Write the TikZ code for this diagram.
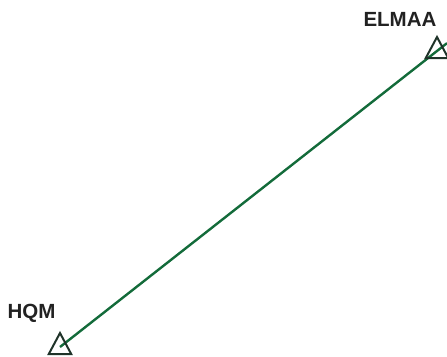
\documentclass[tikz,border=0pt]{standalone}
\usepackage{fontspec}
\setmainfont{Liberation Sans}
\usetikzlibrary{calc}
\definecolor{linegreen}{HTML}{136B3A}
\definecolor{tridark}{HTML}{1F3329}
\definecolor{labelgray}{HTML}{222222}
\tikzset{
  station/.style={draw=tridark, line width=2pt, line join=miter},
  stlabel/.style={anchor=base west, inner sep=0pt, text=labelgray, font=\fontsize{20.5}{24}\selectfont\bfseries},
  link/.style={draw=linegreen, line width=2.4pt}
}
\begin{document}
\begin{tikzpicture}[x=1pt,y=-1pt]
\useasboundingbox (0,0) rectangle (447,356);
\coordinate (hqm) at (60,347);
\coordinate (elmaa) at (437,51);
\coordinate (edge) at ($(hqm)!1.0265!(elmaa)$);
\draw[link] (hqm) -- (edge);
\draw[station] ($(hqm)+(0,-14)$) -- ($(hqm)+(11.2,7)$) -- ($(hqm)+(-11.2,7)$) -- cycle;
\draw[station] ($(elmaa)+(0,-14)$) -- ($(elmaa)+(11.2,7)$) -- ($(elmaa)+(-11.2,7)$) -- cycle;
\node[stlabel] (lhqm) at (7.3,318.3) {HQM};
\node[stlabel] (lelmaa) at (363.3,26.7) {ELMAA};
\end{tikzpicture}
\end{document}
